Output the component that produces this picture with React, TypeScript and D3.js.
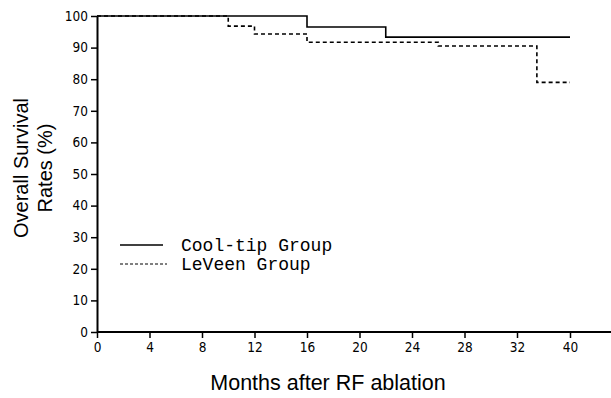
import React, { useEffect, useRef } from 'react';
import * as d3 from 'd3';

// Survival step data (months, %)
const coolTipMonths = [0, 16, 22, 40];
const coolTipSurvival = [100, 96.5, 93.3, 93.3];
const leveenMonths = [0, 10, 12, 16, 26, 35, 40];
const leveenSurvival = [100, 96.8, 94.3, 91.7, 90.5, 79, 79];

const xTicks = [0, 4, 8, 12, 16, 20, 24, 28, 32, 40];
const yTicks = [0, 10, 20, 30, 40, 50, 60, 70, 80, 90, 100];
const seriesNames = ['Cool-tip Group', 'LeVeen Group'];

const W = 611;
const H = 398;

const App = () => {
  const ref = useRef<SVGSVGElement>(null);

  useEffect(() => {
    const svg = d3.select(ref.current);
    svg.selectAll('*').remove();

    const tickFont = '"DejaVu Sans Condensed", "Liberation Sans Narrow", sans-serif';
    const titleFont = '"Liberation Sans", Arial, sans-serif';

    // the original axis puts "40" one step after "32", so the last segment is squeezed
    const x = d3.scaleLinear().domain([0, 32, 40]).range([97, 517, 570]);
    const y = d3.scaleLinear().domain([0, 100]).range([332, 16]);

    // y axis
    const yAxis = svg.append('g').attr('transform', `translate(${x(0)},0)`)
      .call(d3.axisLeft(y).tickValues(yTicks).tickSize(6).tickSizeOuter(0).tickPadding(3));
    yAxis.select('.domain').attr('stroke-width', 2);
    yAxis.selectAll('line').attr('stroke-width', 1.5);
    yAxis.selectAll('text')
      .attr('font-family', tickFont).attr('font-stretch', 'condensed')
      .attr('font-size', 13.5).attr('fill', '#000');

    // x axis
    const xAxis = svg.append('g').attr('transform', `translate(0,${y(0)})`)
      .call(d3.axisBottom(x).tickValues(xTicks).tickSize(6).tickSizeOuter(0).tickPadding(4));
    xAxis.select('.domain').remove();
    xAxis.append('line')
      .attr('x1', x(0)).attr('x2', W)
      .attr('stroke', '#000').attr('stroke-width', 2);
    xAxis.selectAll('.tick line').attr('stroke-width', 1.5);
    xAxis.selectAll('text')
      .attr('font-family', tickFont).attr('font-stretch', 'condensed')
      .attr('font-size', 13.5).attr('fill', '#000');

    const line = d3.line<[number, number]>()
      .x(d => x(d[0]))
      .y(d => y(d[1]))
      .curve(d3.curveStepAfter);

    const cool = coolTipMonths.map((m, i) => [m, coolTipSurvival[i]] as [number, number]);
    const lev = leveenMonths.map((m, i) => [m, leveenSurvival[i]] as [number, number]);

    svg.append('path').datum(lev)
      .attr('d', line).attr('fill', 'none')
      .attr('stroke', '#000').attr('stroke-width', 1.6)
      .attr('stroke-dasharray', '4,3');
    svg.append('path').datum(cool)
      .attr('d', line).attr('fill', 'none')
      .attr('stroke', '#000').attr('stroke-width', 1.6);

    // legend
    const legend = svg.append('g');
    seriesNames.forEach((name, i) => {
      const ly = 245 + i * 19;
      legend.append('line')
        .attr('x1', 120).attr('x2', i === 0 ? 163 : 167)
        .attr('y1', ly).attr('y2', ly)
        .attr('stroke', '#000').attr('stroke-width', i === 0 ? 1.5 : 1)
        .attr('stroke-dasharray', i === 0 ? null : '3,2');
      legend.append('text')
        .attr('x', 181).attr('y', ly + 6)
        .attr('font-family', '"Liberation Mono", "DejaVu Sans Mono", monospace')
        .attr('font-size', 18)
        .text(name);
    });

    // axis titles
    svg.append('text')
      .attr('x', 328).attr('y', 390)
      .attr('text-anchor', 'middle')
      .attr('font-family', titleFont).attr('font-size', 21.5)
      .text('Months after RF ablation');

    const yTitle = svg.append('text')
      .attr('transform', 'translate(0,168) rotate(-90)')
      .attr('text-anchor', 'middle')
      .attr('font-family', titleFont).attr('font-size', 20);
    yTitle.append('tspan').attr('x', 0).attr('y', 28).text('Overall Survival');
    yTitle.append('tspan').attr('x', 0).attr('y', 52).text('Rates (%)');
  });

  return (
    <svg ref={ref} width={W} height={H}
      style={{ position: 'absolute', left: 0, top: 0, background: '#fff' }} />
  );
};

export default App;
